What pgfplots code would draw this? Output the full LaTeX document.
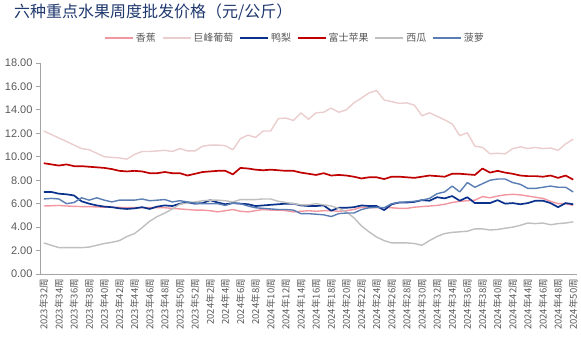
\documentclass[border=0pt]{standalone}
\usepackage{pgfplots}
\pgfplotsset{compat=1.18}
\usepackage{pgfplotstable}
\usepackage{fontspec}
\setmainfont{Liberation Sans}
\newfontfamily\cjk{Noto Sans CJK SC}
\definecolor{cBanana}{RGB}{242,150,160}
\definecolor{cGrape}{RGB}{235,205,205}
\definecolor{cPear}{RGB}{10,50,140}
\definecolor{cApple}{RGB}{192,0,0}
\definecolor{cMelon}{RGB}{191,191,191}
\definecolor{cPine}{RGB}{90,125,180}
\definecolor{cText}{RGB}{89,89,89}
\definecolor{cTitle}{RGB}{31,56,110}
\pgfplotstableread{
i banana grape pear apple melon pine
0 5.80 12.2 7.00 9.45 2.65 6.40
1 5.82 11.9 7.00 9.35 2.45 6.45
2 5.85 11.6 6.85 9.25 2.25 6.40
3 5.80 11.3 6.80 9.35 2.25 6.00
4 5.77 11.0 6.70 9.20 2.25 6.10
5 5.75 10.7 6.20 9.20 2.25 6.50
6 5.75 10.6 6.00 9.15 2.30 6.30
7 5.72 10.3 5.85 9.10 2.45 6.50
8 5.70 10.0 5.75 9.05 2.60 6.30
9 5.70 9.95 5.70 8.95 2.70 6.15
10 5.68 9.90 5.60 8.80 2.85 6.30
11 5.66 9.80 5.55 8.75 3.20 6.30
12 5.66 10.2 5.60 8.80 3.45 6.30
13 5.66 10.45 5.70 8.75 3.95 6.40
14 5.66 10.45 5.55 8.60 4.50 6.25
15 5.66 10.5 5.75 8.60 4.90 6.30
16 5.65 10.55 5.85 8.70 5.20 6.35
17 5.60 10.45 5.80 8.60 5.55 6.15
18 5.55 10.7 6.00 8.60 5.95 6.25
19 5.50 10.5 6.10 8.40 6.05 6.15
20 5.45 10.5 6.00 8.55 6.15 6.05
21 5.45 10.9 6.05 8.70 6.25 6.00
22 5.40 11.0 6.30 8.75 6.30 6.00
23 5.30 11.0 6.10 8.80 6.30 6.00
24 5.40 10.95 5.95 8.80 6.25 5.85
25 5.50 10.6 6.05 8.50 6.15 6.05
26 5.35 11.55 6.00 9.05 6.35 6.00
27 5.30 11.85 5.95 9.00 6.35 5.80
28 5.40 11.65 5.80 8.90 6.35 5.65
29 5.50 12.2 5.85 8.85 6.40 5.60
30 5.45 12.2 5.90 8.90 6.40 5.55
31 5.45 13.25 5.95 8.85 6.20 5.50
32 5.40 13.3 6.00 8.80 6.10 5.50
33 5.30 13.1 6.00 8.80 6.00 5.45
34 5.35 13.75 5.85 8.65 5.90 5.15
35 5.40 13.2 5.80 8.55 5.90 5.15
36 5.35 13.75 5.80 8.45 6.00 5.10
37 5.40 13.8 5.85 8.60 5.90 5.05
38 5.40 14.15 5.40 8.40 5.80 4.90
39 5.35 13.8 5.65 8.45 5.60 5.15
40 5.40 14.0 5.65 8.40 5.30 5.20
41 5.50 14.6 5.70 8.30 4.80 5.20
42 5.70 15.0 5.85 8.15 4.10 5.50
43 5.65 15.45 5.80 8.25 3.60 5.65
44 5.65 15.65 5.80 8.25 3.15 5.70
45 5.65 14.85 5.45 8.10 2.85 5.65
46 5.65 14.7 5.95 8.30 2.65 6.00
47 5.60 14.55 6.10 8.30 2.65 6.10
48 5.60 14.6 6.10 8.25 2.65 6.15
49 5.70 14.4 6.15 8.20 2.60 6.20
50 5.75 13.5 6.30 8.30 2.45 6.30
51 5.80 13.75 6.25 8.40 2.85 6.45
52 5.85 13.45 6.55 8.35 3.20 6.85
53 5.95 13.15 6.45 8.30 3.45 7.00
54 6.10 12.8 6.65 8.55 3.55 7.50
55 6.20 11.8 6.25 8.55 3.60 7.00
56 6.25 12.05 6.55 8.50 3.65 7.80
57 6.30 10.9 6.05 8.45 3.85 7.40
58 6.60 10.8 6.05 9.00 3.85 7.70
59 6.50 10.25 6.05 8.65 3.75 8.00
60 6.65 10.3 6.30 8.80 3.80 8.10
61 6.75 10.25 6.00 8.65 3.90 8.10
62 6.80 10.7 6.05 8.55 4.00 7.80
63 6.75 10.85 5.95 8.40 4.15 7.65
64 6.65 10.7 6.05 8.35 4.35 7.30
65 6.55 10.8 6.25 8.35 4.30 7.30
66 6.45 10.7 6.25 8.30 4.35 7.40
67 6.20 10.75 6.05 8.40 4.20 7.50
68 6.00 10.55 5.70 8.20 4.30 7.40
69 6.00 11.1 6.05 8.40 4.35 7.40
70 5.85 11.5 5.95 8.05 4.45 7.00
}\data
\begin{document}
\begin{tikzpicture}
\useasboundingbox (-40pt,-76pt) rectangle (541pt,274pt);
\begin{axis}[
  at={(0,0)}, anchor=south west,
  scale only axis, width=537pt, height=211pt,
  xmin=-0.5, xmax=70.5, ymin=0, ymax=18,
  ytick={0,2,...,18},
  xtick={0,2,...,70},
  xticklabels={2023年32周,2023年34周,2023年36周,2023年38周,2023年40周,2023年42周,2023年44周,2023年46周,2023年48周,2023年50周,2023年52周,2024年2周,2024年4周,2024年6周,2024年8周,2024年10周,2024年12周,2024年14周,2024年16周,2024年18周,2024年20周,2024年22周,2024年24周,2024年26周,2024年28周,2024年30周,2024年32周,2024年34周,2024年36周,2024年38周,2024年40周,2024年42周,2024年44周,2024年46周,2024年48周,2024年50周},
  axis x line=bottom, axis y line=left,
  axis line style={draw=cText!55, -, line width=0.8pt},
  tick align=outside, major tick length=4pt,
  xtick style={draw=none},
  ytick style={draw=cText!55, line width=0.8pt},
  xticklabel style={rotate=90, anchor=east, font=\cjk\fontsize{9.5}{10}\selectfont, text=cText, inner sep=1pt},
  yticklabel style={font=\fontsize{11}{12}\selectfont, text=cText},
  /pgf/number format/fixed, /pgf/number format/fixed zerofill, /pgf/number format/precision=2,
  /pgf/number format/assume math mode=true,
  legend columns=6,
  legend style={at={(0.475,1.118)}, anchor=center, draw=none, fill=none,
    font=\cjk\fontsize{10}{12}\selectfont, text=cText,
    /tikz/every even column/.append style={column sep=4pt}},
  legend image code/.code={\draw[#1, line width=1.6pt] (0pt,0pt) -- (28pt,0pt);},
  every axis plot/.append style={line join=round, no markers},
]
\addplot[cBanana, line width=1.4pt] table[x=i, y=banana] {\data};
\addlegendentry{香蕉}
\addplot[cGrape, line width=1.4pt] table[x=i, y=grape] {\data};
\addlegendentry{巨峰葡萄}
\addplot[cPear, line width=1.7pt] table[x=i, y=pear] {\data};
\addlegendentry{鸭梨}
\addplot[cApple, line width=1.7pt] table[x=i, y=apple] {\data};
\addlegendentry{富士苹果}
\addplot[cMelon, line width=1.4pt] table[x=i, y=melon] {\data};
\addlegendentry{西瓜}
\addplot[cPine, line width=1.4pt] table[x=i, y=pine] {\data};
\addlegendentry{菠萝}
\end{axis}
\node[anchor=west, font=\cjk\fontsize{16}{18}\selectfont, text=cTitle, inner sep=0pt] at (-26pt, 262pt) {六种重点水果周度批发价格（元/公斤）};
\end{tikzpicture}
\end{document}
